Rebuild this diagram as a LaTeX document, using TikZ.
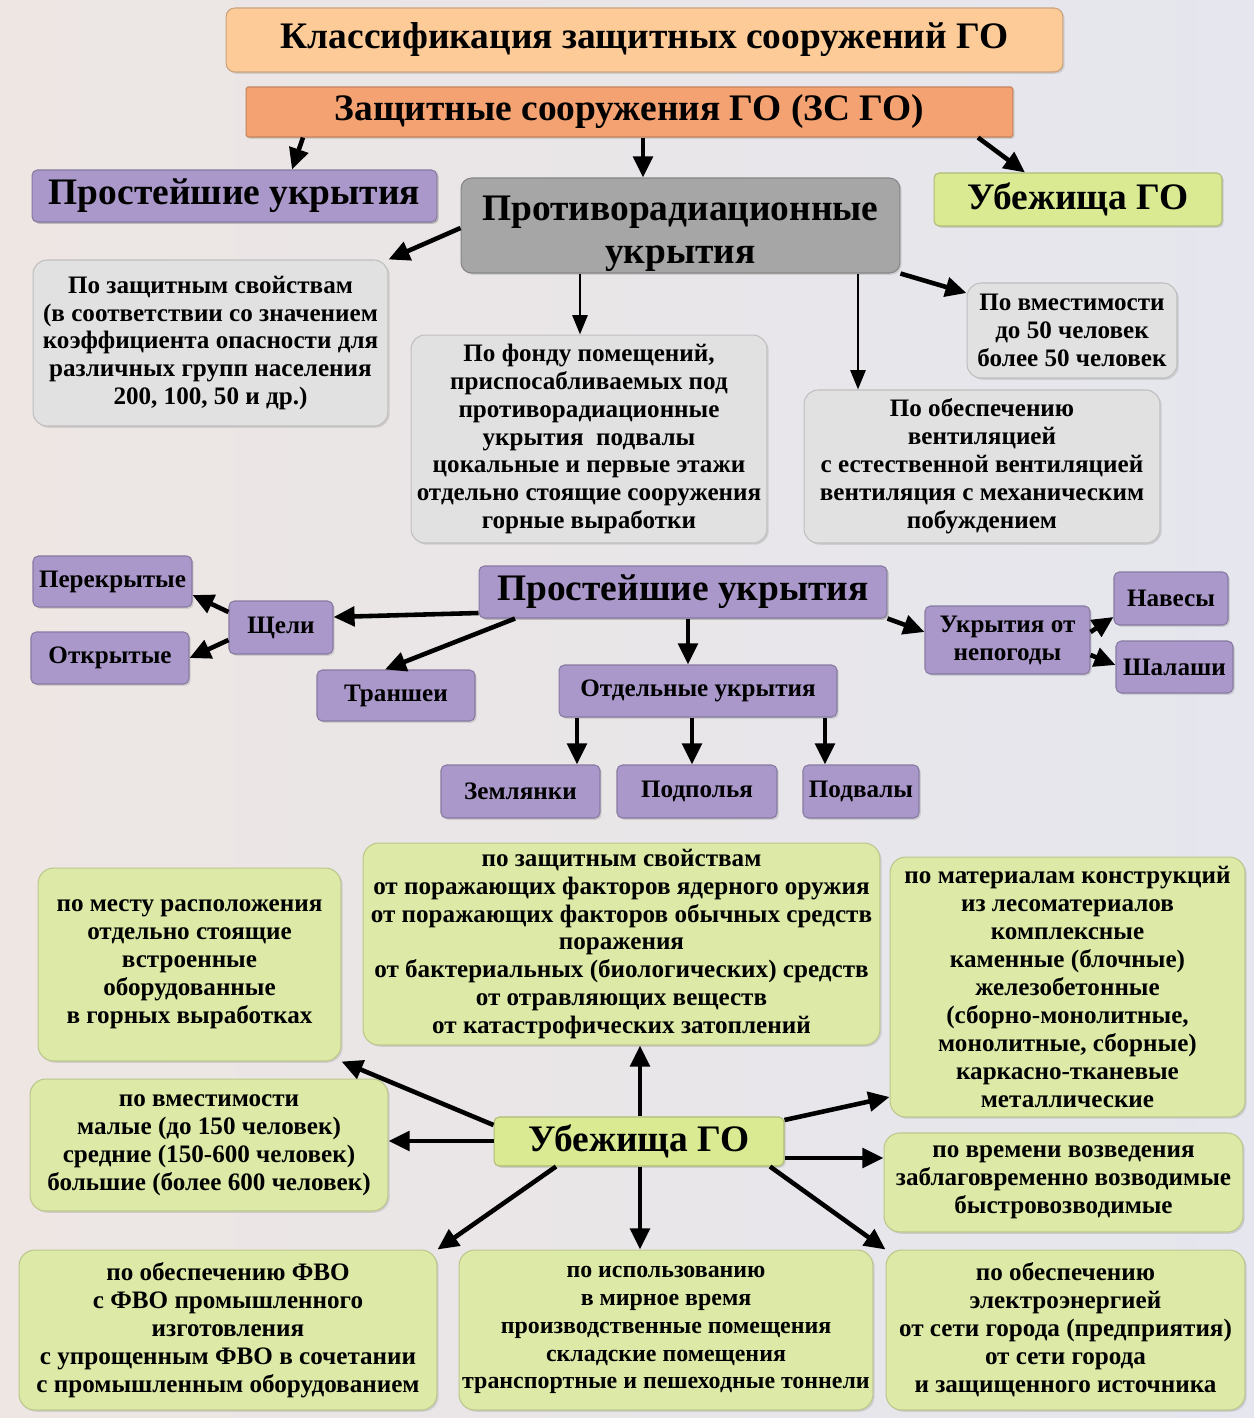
\documentclass[tikz,border=0pt]{standalone}
\usepackage{fontspec}
\setmainfont{Liberation Serif}
\usetikzlibrary{arrows.meta,shadows}

\definecolor{bgwarm}{HTML}{EDE6E3}
\definecolor{bgcool}{HTML}{E5E6EE}
\definecolor{titleorange}{HTML}{FCCB98}
\definecolor{zsorange}{HTML}{F4A272}
\definecolor{lilac}{HTML}{A998C9}
\definecolor{darkgray}{HTML}{A6A6A6}
\definecolor{lightgray}{HTML}{E1E1E1}
\definecolor{ubgreen}{HTML}{D9EA92}
\definecolor{palegreen}{HTML}{DDE9A6}

\begin{document}
\begin{tikzpicture}[x = 0.02cm, y = -0.02cm]
\tikzstyle{BoxStyle}=[shape = rectangle,
                      align = center,
                      inner sep = 1pt,
                      line width = 0.6pt,
                      font = \bfseries\fontsize{14.3}{15.9}\selectfont,
                      drop shadow = {shadow xshift = 1pt, shadow yshift = -1pt, opacity = 0.25}]
\tikzstyle{HeadStyle}=[BoxStyle, font = \bfseries\fontsize{21.3}{24.4}\selectfont]
\tikzstyle{PurpleBox}=[BoxStyle, fill = lilac, draw = lilac!80!black, rounded corners = 3pt]
\tikzstyle{GrayBox}=[BoxStyle, fill = lightgray, draw = lightgray!85!black, rounded corners = 8pt]
\tikzstyle{GreenBox}=[BoxStyle, fill = palegreen, draw = palegreen!85!black, rounded corners = 9pt]
\tikzstyle{Arrow}=[line width = 2.6pt, -{Triangle[length = 12pt, width = 11pt]}]
\tikzstyle{ThinArrow}=[line width = 1.6pt, -{Triangle[length = 11pt, width = 8.5pt]}]

% background
\shade[left color = bgwarm, right color = bgcool] (0,0) rectangle (1254,1418);

% top part
\node[HeadStyle, fill = titleorange, draw = titleorange!80!black, rounded corners = 5pt,
      minimum width = 16.74cm, minimum height = 1.28cm] (title) at (644.5,40)
      {Классификация защитных сооружений ГО};
\node[HeadStyle, fill = zsorange, draw = zsorange!80!black, rounded corners = 1pt,
      minimum width = 15.34cm, minimum height = 1.0cm] (zsgo) at (629.5,112)
      {Защитные сооружения ГО (ЗС ГО)};
\node[HeadStyle, PurpleBox, font = \bfseries\fontsize{21.3}{24.4}\selectfont,
      minimum width = 8.1cm, minimum height = 1.04cm] (prost1) at (234.5,196) {Простейшие укрытия};
\node[HeadStyle, fill = darkgray, draw = darkgray!80!black, rounded corners = 6pt, text depth = 0pt,
      minimum width = 8.78cm, minimum height = 1.9cm] (prr) at (680.5,225.5)
      {\rule{0pt}{19pt}Противорадиационные\\укрытия};
\node[HeadStyle, fill = ubgreen, draw = ubgreen!80!black, rounded corners = 3pt,
      minimum width = 5.76cm, minimum height = 1.06cm] (ub1) at (1078,199.5) {Убежища ГО};

\node[GrayBox, minimum width = 7.1cm, minimum height = 3.32cm] (pzs) at (210.5,343)
      {По защитным свойствам\\(в соответствии со значением\\коэффициента опасности для\\различных групп населения\\200, 100, 50 и др.)};
\node[GrayBox, minimum width = 7.12cm, minimum height = 4.16cm] (pfp) at (589,439)
      {По фонду помещений,\\приспосабливаемых под\\противорадиационные\\укрытия\ \ подвалы\\цокальные и первые этажи\\отдельно стоящие сооружения\\горные выработки};
\node[GrayBox, minimum width = 4.2cm, minimum height = 1.9cm] (pvm) at (1072,330.5)
      {По вместимости\\до 50 человек\\более 50 человек};
\node[GrayBox, minimum width = 7.12cm, minimum height = 3.06cm] (pov) at (982,466.5)
      {По обеспечению\\вентиляцией\\с естественной вентиляцией\\вентиляция с механическим\\побуждением};

\draw[Arrow] (zsgo.south -| 303,0) -- (prost1.north -| 292,0);
\draw[Arrow] (zsgo.south -| 643,0) -- (prr.north -| 643,0);
\draw[Arrow] (zsgo.south -| 978,0) -- (ub1.north -| 1025,0);
\draw[Arrow] (prr.west |- 0,228) -- (pzs.north east);
\draw[ThinArrow] (prr.south -| 580,0) -- (pfp.north -| 580,0);
\draw[ThinArrow] (prr.south -| 858,0) -- (pov.north -| 858,0);
\draw[Arrow] (prr.south east) -- (pvm.west |- 0,293);

% middle part
\node[HeadStyle, PurpleBox, font = \bfseries\fontsize{21.3}{24.4}\selectfont,
      minimum width = 8.16cm, minimum height = 1.04cm] (prost2) at (683,592) {Простейшие укрытия};
\node[PurpleBox, minimum width = 2.08cm, minimum height = 1.06cm] (scheli) at (281,627.5) {Щели};
\node[PurpleBox, minimum width = 3.18cm, minimum height = 1.02cm] (perekr) at (112.5,581.5) {Перекрытые};
\node[PurpleBox, minimum width = 3.16cm, minimum height = 1.04cm] (otkr) at (110,658) {Открытые};
\node[PurpleBox, minimum width = 3.16cm, minimum height = 1.02cm] (transh) at (396,695.5) {Траншеи};
\node[PurpleBox, minimum width = 5.56cm, minimum height = 1.04cm] (otdel) at (698,691) {Отдельные укрытия};
\node[PurpleBox, minimum width = 3.18cm, minimum height = 1.06cm] (zeml) at (520.5,791.5) {Землянки};
\node[PurpleBox, minimum width = 3.2cm, minimum height = 1.06cm] (podp) at (697,791.5) {Подполья};
\node[PurpleBox, minimum width = 2.32cm, minimum height = 1.06cm] (podv) at (861,791.5) {Подвалы};
\node[PurpleBox, minimum width = 3.3cm, minimum height = 1.36cm] (nepog) at (1007.5,640) {Укрытия от\\непогоды};
\node[PurpleBox, minimum width = 2.28cm, minimum height = 1.06cm] (naves) at (1171,598.5) {Навесы};
\node[PurpleBox, minimum width = 2.34cm, minimum height = 1.04cm] (shalash) at (1174.5,667) {Шалаши};

\draw[Arrow] (prost2.west |- 0,613) -- (scheli.east |- 0,617);
\draw[Arrow] (prost2.south -| 515,0) -- (transh.north -| 385,0);
\draw[Arrow] (prost2.south -| 688,0) -- (otdel.north -| 688,0);
\draw[Arrow] (prost2.south east) -- (nepog.west |- 0,632);
\draw[Arrow] (scheli.west |- 0,612) -- (perekr.east |- 0,595);
\draw[Arrow] (scheli.west |- 0,640) -- (otkr.east |- 0,658);
\draw[Arrow] (otdel.south -| 577,0) -- (zeml.north -| 577,0);
\draw[Arrow] (otdel.south -| 692,0) -- (podp.north -| 692,0);
\draw[Arrow] (otdel.south -| 825,0) -- (podv.north -| 825,0);
\draw[Arrow] (nepog.east |- 0,632) -- (naves.west |- 0,617);
\draw[Arrow] (nepog.east |- 0,655) -- (shalash.west |- 0,665);

% bottom part
\node[GreenBox, minimum width = 10.34cm, minimum height = 4.04cm] (gzs) at (621.5,944)
      {по защитным свойствам\\от поражающих факторов ядерного оружия\\от поражающих факторов обычных средств\\поражения\\от бактериальных (биологических) средств\\от отравляющих веществ\\от катастрофических затоплений};
\node[GreenBox, minimum width = 6.06cm, minimum height = 3.86cm] (gmr) at (189.5,964.5)
      {по месту расположения\\отдельно стоящие\\встроенные\\оборудованные\\в горных выработках};
\node[GreenBox, minimum width = 7.1cm, minimum height = 5.2cm] (gmk) at (1067.5,987)
      {по материалам конструкций\\из лесоматериалов\\комплексные\\каменные (блочные)\\железобетонные\\(сборно-монолитные,\\монолитные, сборные)\\каркасно-тканевые\\металлические};
\node[GreenBox, minimum width = 7.16cm, minimum height = 2.64cm] (gvm) at (209,1145)
      {по вместимости\\малые (до 150 человек)\\средние (150-600 человек)\\большие (более 600 человек)};
\node[HeadStyle, fill = ubgreen, draw = ubgreen!80!black, rounded corners = 3pt,
      minimum width = 5.8cm, minimum height = 0.98cm] (ub2) at (639,1141.5) {Убежища ГО};
\node[GreenBox, minimum width = 7.18cm, minimum height = 1.98cm] (gvv) at (1063.5,1182.5)
      {по времени возведения\\заблаговременно возводимые\\быстровозводимые};
\node[GreenBox, minimum width = 8.36cm, minimum height = 3.2cm] (gfvo) at (228,1330)
      {по обеспечению ФВО\\с ФВО промышленного\\изготовления\\с упрощенным ФВО в сочетании\\с промышленным оборудованием};
\node[GreenBox, font = \bfseries\fontsize{13.6}{15.9}\selectfont,
      minimum width = 8.28cm, minimum height = 3.2cm] (gisp) at (666,1330)
      {по использованию\\в мирное время\\производственные помещения\\складские помещения\\транспортные и пешеходные тоннели};
\node[GreenBox, minimum width = 7.18cm, minimum height = 3.2cm] (gel) at (1065.5,1330)
      {по обеспечению\\электроэнергией\\от сети города (предприятия)\\от сети города\\и защищенного источника};

\draw[Arrow] (ub2.north -| 640,0) -- (gzs.south -| 640,0);
\draw[Arrow] (ub2.west |- 0,1125) -- (gmr.south east);
\draw[Arrow] (ub2.west |- 0,1141) -- (gvm.east |- 0,1141);
\draw[Arrow] (ub2.east |- 0,1120) -- (gmk.west |- 0,1097);
\draw[Arrow] (ub2.east |- 0,1158) -- (gvv.west |- 0,1158);
\draw[Arrow] (ub2.south -| 556,0) -- (gfvo.north east);
\draw[Arrow] (ub2.south -| 640,0) -- (gisp.north -| 640,0);
\draw[Arrow] (ub2.south -| 770,0) -- (gel.north west);
\end{tikzpicture}
\end{document}
